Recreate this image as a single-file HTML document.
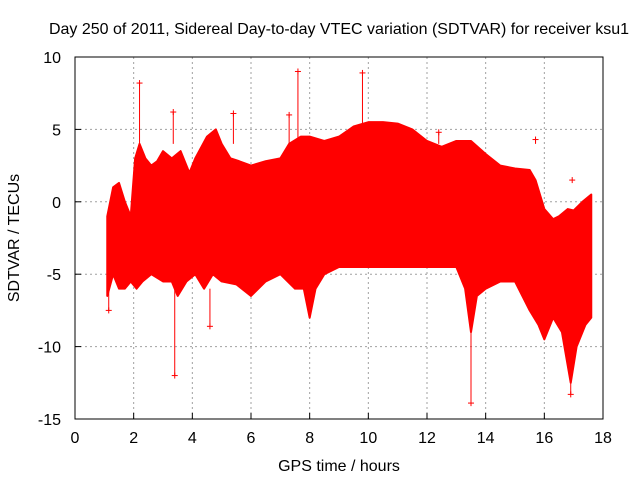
<!DOCTYPE html>
<html><head><meta charset="utf-8"><style>
body{margin:0;background:#fff}
svg text{font-family:"Liberation Sans",sans-serif;fill:#000}
</style></head><body>
<svg id="chart" width="640" height="480" xmlns="http://www.w3.org/2000/svg">
<rect width="640" height="480" fill="#fff"/>
<text x="339" y="34" font-size="16" text-anchor="middle">Day 250 of 2011, Sidereal Day-to-day VTEC variation (SDTVAR) for receiver ksu1</text>
<text x="339" y="471" font-size="16" text-anchor="middle">GPS time / hours</text>
<text x="19" y="238" font-size="16" text-anchor="middle" transform="rotate(-90 19 238)">SDTVAR / TECUs</text>
<g id="grid"></g><g id="marks"></g><g id="axes"></g>
</svg>
<script>
const xTicks=[0,2,4,6,8,10,12,14,16,18];
const yTicks=[10,5,0,-5,-10,-15];
const upperT=[1.1,1.3,1.5,1.7,1.9,2.05,2.2,2.4,2.6,2.8,3.0,3.3,3.6,3.9,4.1,4.5,4.8,5.0,5.3,5.6,6.0,6.5,7.0,7.3,7.7,8.0,8.5,9.0,9.5,10.0,10.5,11.0,11.5,12.0,12.5,13.0,13.5,14.0,14.5,15.0,15.5,15.7,16.0,16.3,16.5,16.8,17.0,17.3,17.6];
const upperV=[-1,1,1.3,0,-1,3,4,3,2.5,2.8,3.5,3.0,3.5,2,3,4.5,5,4,3,2.8,2.5,2.8,3,4,4.5,4.5,4.2,4.5,5.2,5.5,5.5,5.4,5,4.2,3.8,4.2,4.2,3.3,2.5,2.3,2.2,1.5,-0.5,-1.2,-1,-0.5,-0.6,0,0.5];
const lowerT=[1.1,1.3,1.5,1.7,1.9,2.1,2.3,2.6,3.0,3.3,3.5,3.8,4.1,4.4,4.7,5.0,5.5,6.0,6.5,7.0,7.5,7.8,8.0,8.2,8.5,9.0,9.5,10.0,11.0,12.0,12.5,13.0,13.3,13.5,13.7,14.0,14.5,15.0,15.5,15.8,16.0,16.3,16.6,16.9,17.1,17.4,17.6];
const lowerV=[-6.5,-5,-6,-6,-5.5,-6,-5.5,-5,-5.5,-5.5,-6.5,-5.5,-5,-6,-5,-5.5,-5.7,-6.5,-5.5,-5,-6,-6,-8,-6,-5,-4.5,-4.5,-4.5,-4.5,-4.5,-4.5,-4.5,-6,-9,-6.5,-6,-5.5,-5.5,-7.5,-8.5,-9.5,-8,-9,-12.5,-10,-8.5,-8];
const outT=[1.15,2.2,3.35,3.4,4.6,5.4,7.3,7.6,9.8,12.4,13.5,15.7,16.95,16.9];
const outV=[-7.5,8.2,6.2,-12,-8.6,6.1,6,9,8.9,4.8,-13.9,4.3,1.5,-13.3];
const NS="http://www.w3.org/2000/svg";
const L=75,R=603,T=57,B=419;
const sx=v=>L+(v-0)/(18-0)*(R-L);
const sy=v=>T+(10-v)/(10+15)*(B-T);
function mk(p,tag,at){const e=document.createElementNS(NS,tag);for(const k in at)e.setAttribute(k,at[k]);p.appendChild(e);return e;}
const grid=document.getElementById('grid'),marks=document.getElementById('marks'),axes=document.getElementById('axes');
xTicks.forEach(t=>{
 if(t>0&&t<18){const g=mk(grid,'line',{x1:sx(t),x2:sx(t),y1:T,y2:B,stroke:'#a0a0a0','stroke-dasharray':'2,3'});
 }
 const tk=mk(axes,'line',{x1:sx(t),x2:sx(t),y1:B,y2:B-6,stroke:'#000'});
 
 const tx=mk(axes,'text',{x:sx(t),y:B+24,'font-size':16,'text-anchor':'middle'});tx.textContent=t;
 
});
yTicks.forEach(t=>{
 if(t<10&&t>-15){const g=mk(grid,'line',{x1:L,x2:R,y1:sy(t),y2:sy(t),stroke:'#a0a0a0','stroke-dasharray':'2,3'});
 }
 const tk=mk(axes,'line',{x1:L,x2:L+6,y1:sy(t),y2:sy(t),stroke:'#000'});
 
 const tx=mk(axes,'text',{x:L-14,y:sy(t)+6,'font-size':16,'text-anchor':'end'});tx.textContent=t;
 
});
const fr=mk(axes,'rect',{x:L,y:T,width:R-L,height:B-T,fill:'none',stroke:'#000'});

let pts=upperT.map((t,i)=>sx(t)+','+sy(upperV[i]));
for(let i=lowerT.length-1;i>=0;i--)pts.push(sx(lowerT[i])+','+sy(lowerV[i]));
const band=mk(marks,'polygon',{points:pts.join(' '),fill:'#ff0000',stroke:'#ff0000','stroke-width':2,'stroke-linejoin':'round'});

outT.forEach((t,i)=>{
 const v=outV[i];const x=sx(t),y=sy(v);
 const base=v>0?Math.min(v,4):Math.max(v,-6);
 const g=mk(marks,'g',{});
 
 mk(g,'line',{x1:x,x2:x,y1:y,y2:sy(base),stroke:'#ff0000'});
 mk(g,'line',{x1:x-3,x2:x+3,y1:y,y2:y,stroke:'#ff0000'});
 mk(g,'line',{x1:x,x2:x,y1:y-3,y2:y+3,stroke:'#ff0000'});
});
</script>
</body></html>
